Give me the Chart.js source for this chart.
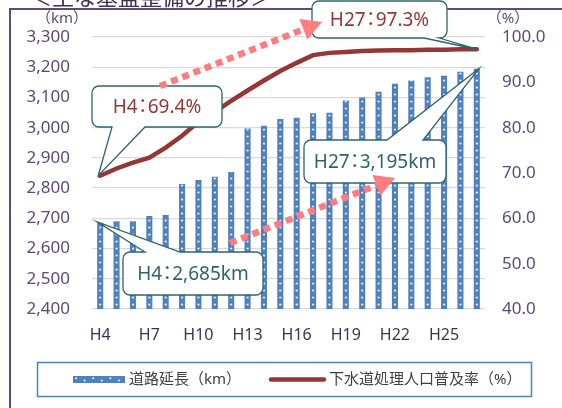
<!DOCTYPE html>
<html><head><meta charset="utf-8">
<script src="https://cdn.jsdelivr.net/npm/chart.js@4.4.1/dist/chart.umd.min.js"></script>
<style>html,body{margin:0;padding:0;background:#fff}#wrap{width:562px;height:408px;position:relative}</style>
</head><body><div id="wrap"><canvas id="c" width="562" height="408"></canvas></div>
<script>
const categories = ['H4','H5','H6','H7','H8','H9','H10','H11','H12','H13','H14','H15','H16','H17','H18','H19','H20','H21','H22','H23','H24','H25','H26','H27'];
const roadLength = [2685,2690,2690,2708,2711,2814,2827,2838,2853,2997,3006,3029,3033,3048,3049,3090,3100,3119,3145,3156,3167,3172,3185,3195];
const sewerRate = [69.4,71.0,72.3,73.4,75.6,78.2,81.3,83.5,85.9,88.2,90.4,92.5,94.3,96.0,96.5,96.7,96.9,97.0,97.1,97.1,97.2,97.2,97.3,97.3];
const xTickLabels = ['H4','H7','H10','H13','H16','H19','H22','H25'];
const leftTicks = [2400,2500,2600,2700,2800,2900,3000,3100,3200,3300];
const rightTicks = [40,50,60,70,80,90,100];
const seriesNames = ['道路延長（km）','下水道処理人口普及率（%）'];
const titleText = '＜主な基盤整備の推移＞';
const leftUnit = '（km）';
const rightUnit = '（%）';

const BLUE = '#4f81bd', RED = '#953735', PURPLE = '#5f497a', TEAL = '#2e6470', PINK = '#ff7c80';
const FONT = "'Noto Sans', 'Noto Sans CJK JP', sans-serif";
Chart.defaults.font.family = FONT;

function dotPattern(ctx, offX) {
  const c = document.createElement('canvas'); c.width = 6; c.height = 7;
  const g = c.getContext('2d');
  g.fillStyle = BLUE; g.fillRect(0,0,6,7);
  g.fillStyle = 'rgba(255,255,255,0.95)';
  g.beginPath(); g.arc(3,3.5,1.1,0,Math.PI*2); g.fill();
  const p = ctx.createPattern(c,'repeat');
  p.setTransform(new DOMMatrix().translate(offX,0));
  return p;
}

function calloutPath(g, x, y, w, h, r, side, b1, b2, tx, ty) {
  g.beginPath();
  g.moveTo(x+r, y);
  if (side === 'top') { g.lineTo(b1, y); g.lineTo(tx, ty); g.lineTo(b2, y); }
  g.lineTo(x+w-r, y); g.arcTo(x+w, y, x+w, y+r, r);
  g.lineTo(x+w, y+h-r); g.arcTo(x+w, y+h, x+w-r, y+h, r);
  if (side === 'bottom') { g.lineTo(b2, y+h); g.lineTo(tx, ty); g.lineTo(b1, y+h); }
  g.lineTo(x+r, y+h); g.arcTo(x, y+h, x, y+h-r, r);
  g.lineTo(x, y+r); g.arcTo(x, y, x+r, y, r);
  g.closePath();
}
// draws "A：B" with the full-width colon placed in a narrow slot, centred at cx
function labelText(g, pre, post, cx, cy) {
  const colon = '：', slot = 10;
  g.textAlign = 'left'; g.textBaseline = 'middle';
  const wPre = g.measureText(pre).width, wPost = g.measureText(post).width;
  const m = g.measureText(colon);
  const inkC = (m.actualBoundingBoxRight - m.actualBoundingBoxLeft) / 2;
  let x = cx - (wPre + slot + wPost) / 2;
  g.fillText(pre, x, cy); x += wPre;
  g.fillText(colon, x + slot/2 - inkC, cy); x += slot;
  g.fillText(post, x, cy);
}
function callout(g, box, side, b1, b2, tip, pre, post, color) {
  calloutPath(g, box.x, box.y, box.w, box.h, 7, side, b1, b2, tip.x, tip.y);
  g.fillStyle = '#fff'; g.fill();
  g.strokeStyle = TEAL; g.lineWidth = 1.3; g.stroke();
  g.fillStyle = color; g.font = "19px " + FONT;
  labelText(g, pre, post, box.x + box.w/2, box.y + box.h/2 + 1);
}
function dottedArrow(g, x0, y0, x1, y1) {
  const a = Math.atan2(y1-y0, x1-x0), L = 20, hw = 11;
  const bx = x1 - L*Math.cos(a), by = y1 - L*Math.sin(a);
  g.save();
  g.strokeStyle = PINK; g.lineWidth = 6.5; g.setLineDash([7,5]); g.lineCap = 'butt';
  g.beginPath(); g.moveTo(x0,y0); g.lineTo(bx,by); g.stroke();
  g.setLineDash([]);
  g.fillStyle = PINK; g.beginPath();
  g.moveTo(x1,y1);
  g.lineTo(bx + hw*Math.sin(a), by - hw*Math.cos(a));
  g.lineTo(bx - hw*Math.sin(a), by + hw*Math.cos(a));
  g.closePath(); g.fill();
  g.restore();
}

const decor = {
  id: 'decor',
  beforeDraw(chart) {
    const g = chart.ctx;
    g.save();
    g.fillStyle = '#fff'; g.fillRect(0,0,chart.width,chart.height);
    g.strokeStyle = '#604a7b'; g.lineWidth = 2;
    g.beginPath(); g.moveTo(10, 420); g.lineTo(10, 9); g.lineTo(570, 9); g.stroke();
    g.fillStyle = '#403152'; g.font = "22px 'Noto Sans CJK JP'";
    g.textAlign = 'left'; g.textBaseline = 'alphabetic';
    g.fillText(titleText, 30, 5);
    g.fillStyle = PURPLE; g.font = "15px " + FONT; g.textBaseline = 'middle';
    g.textAlign = 'center';
    g.fillText(leftUnit, 62, 19);
    g.fillText(rightUnit, 508, 19);
    g.restore();
  },
  afterDraw(chart) {
    const g = chart.ctx, xs = chart.scales.x, yl = chart.scales.y, yr = chart.scales.y1;
    const n = categories.length - 1;
    g.save();
    // legend
    g.strokeStyle = BLUE; g.lineWidth = 1.5;
    g.strokeRect(37.5, 362.5, 494, 34);
    g.fillStyle = BLUE; g.fillRect(73, 376, 52, 7);
    g.fillStyle = 'rgba(255,255,255,0.9)';
    for (let i = 0; i < 6; i++) { g.beginPath(); g.arc(76 + i*8.6, 378.3 + (i%2)*2.2, 1, 0, Math.PI*2); g.fill(); }
    g.fillStyle = '#404040'; g.font = "15px " + FONT; g.textAlign = 'left'; g.textBaseline = 'middle';
    g.fillText(seriesNames[0], 129, 380);
    g.strokeStyle = RED; g.lineWidth = 4.5; g.lineCap = 'round';
    g.beginPath(); g.moveTo(271, 379.5); g.lineTo(324, 379.5); g.stroke();
    g.fillText(seriesNames[1], 329, 380);
    // callouts
    const tipH27line = {x: xs.getPixelForValue(n), y: yr.getPixelForValue(sewerRate[n])};
    const tipH4line = {x: xs.getPixelForValue(0) - 2, y: yr.getPixelForValue(sewerRate[0])};
    const tipH4bar = {x: xs.getPixelForValue(0) - 3, y: yl.getPixelForValue(roadLength[0]) - 1};
    const tipH27bar = {x: xs.getPixelForValue(n) + 2, y: yl.getPixelForValue(roadLength[n])};
    callout(g, {x:312, y:1, w:135, h:37}, 'bottom', 424, 439, tipH27line, categories[n], sewerRate[n].toFixed(1) + '%', RED);
    callout(g, {x:92, y:86, w:130, h:41}, 'bottom', 112, 145, tipH4line, categories[0], sewerRate[0].toFixed(1) + '%', RED);
    callout(g, {x:123, y:252, w:140, h:43}, 'top', 145, 180, tipH4bar, categories[0], roadLength[0].toLocaleString('en-US') + 'km', TEAL);
    callout(g, {x:304, y:140, w:142, h:43}, 'top', 387, 423, tipH27bar, categories[n], roadLength[n].toLocaleString('en-US') + 'km', TEAL);
    // arrows
    dottedArrow(g, 160, 86, 322, 22);
    dottedArrow(g, 230, 243, 395, 178);
    g.restore();
  }
};

new Chart(document.getElementById('c'), {
  data: {
    labels: categories,
    datasets: [
      { type: 'line', label: seriesNames[1], data: sewerRate, yAxisID: 'y1', borderColor: RED, borderWidth: 4.5,
        pointRadius: 0, tension: 0, borderCapStyle: 'round', order: 1 },
      { type: 'bar', label: seriesNames[0], data: roadLength, yAxisID: 'y',
        backgroundColor: (c) => {
          const ch = c.chart; if (!ch.scales || !ch.scales.x) return BLUE;
          return dotPattern(ch.ctx, ch.scales.x.getPixelForValue(c.dataIndex) - 3);
        },
        barPercentage: 0.37, categoryPercentage: 1, order: 2 }
    ]
  },
  options: {
    responsive: false, animation: false, devicePixelRatio: 1,
    layout: { padding: { top: 37, left: 0, right: 0, bottom: 0 } },
    plugins: { legend: { display: false }, tooltip: { enabled: false } },
    scales: {
      x: { type: 'category', grid: { display: false }, border: { display: false },
        ticks: { autoSkip: false, maxRotation: 0, padding: 9, color: '#403152', font: { size: 16 },
          callback: (v, i) => xTickLabels.includes(categories[i]) ? categories[i] : '' },
        afterFit: s => { s.height = 99; } },
      y: { position: 'left', min: leftTicks[0], max: leftTicks[leftTicks.length-1],
        afterBuildTicks: s => { s.ticks = leftTicks.map(v => ({ value: v })); },
        ticks: { padding: 22, color: PURPLE, font: { size: 17 }, callback: v => Number(v).toLocaleString('en-US') },
        grid: { color: '#d9d9d9', lineWidth: 1.3, drawTicks: false }, border: { display: false },
        afterFit: s => { s.width = 92; } },
      y1: { position: 'right', min: rightTicks[0], max: rightTicks[rightTicks.length-1],
        afterBuildTicks: s => { s.ticks = rightTicks.map(v => ({ value: v })); },
        ticks: { padding: 17, color: PURPLE, font: { size: 17 }, callback: v => Number(v).toFixed(1) },
        grid: { drawOnChartArea: false, drawTicks: false }, border: { display: false },
        afterFit: s => { s.width = 77; } }
    }
  },
  plugins: [decor]
});
</script>
</body></html>
